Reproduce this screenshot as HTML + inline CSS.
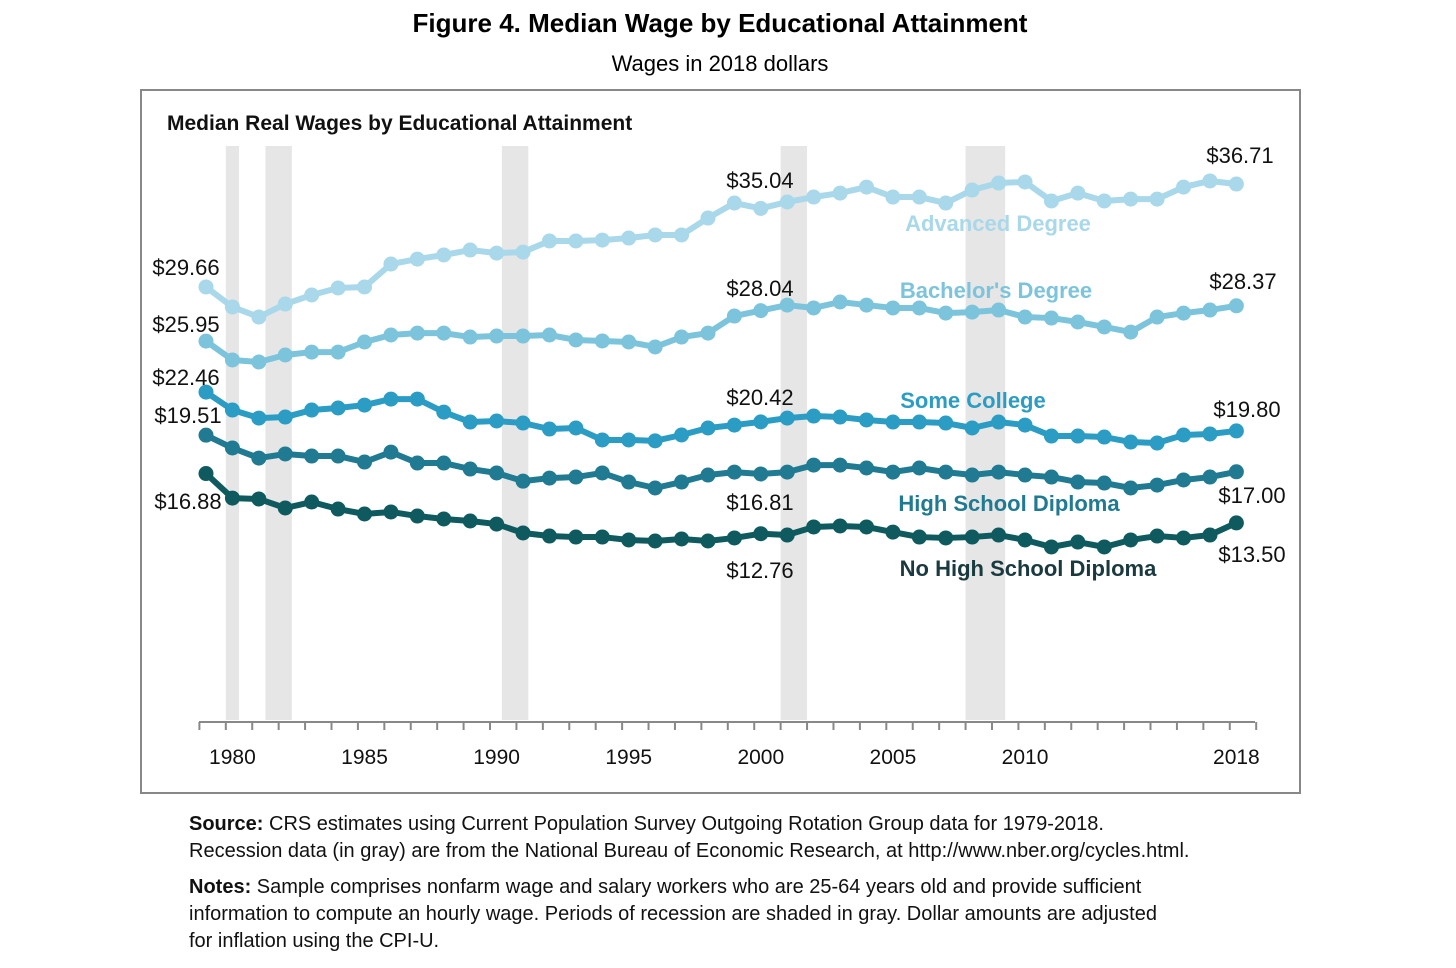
<!DOCTYPE html>
<html><head><meta charset="utf-8">
<style>
body{margin:0;background:#fff;width:1456px;height:968px;overflow:hidden;font-family:"Liberation Sans",sans-serif;}
.foot{position:absolute;left:189px;font-size:20px;color:#111;line-height:27px;}
</style></head>
<body>
<svg width="1456" height="968" style="position:absolute;left:0;top:0">
<text x="720" y="32" text-anchor="middle" font-size="26" font-weight="bold" fill="#000">Figure 4. Median Wage by Educational Attainment</text>
<text x="720" y="71" text-anchor="middle" font-size="22" fill="#000">Wages in 2018 dollars</text>
<rect x="141" y="90" width="1159" height="703" fill="none" stroke="#888" stroke-width="2"/>
<text x="167" y="130" font-size="21" font-weight="bold" fill="#111">Median Real Wages by Educational Attainment</text>
<g id="rec"></g><g id="axis"></g><g id="lines"></g><g id="labels"></g>
</svg>
<div class="foot" style="top:811px"><b>Source:</b> CRS estimates using Current Population Survey Outgoing Rotation Group data for 1979-2018.<br>Recession data (in gray) are from the National Bureau of Economic Research, at http://www.nber.org/cycles.html.</div>
<div class="foot" style="top:874px"><b>Notes:</b> Sample comprises nonfarm wage and salary workers who are 25-64 years old and provide sufficient<br>information to compute an hourly wage. Periods of recession are shaded in gray. Dollar amounts are adjusted<br>for inflation using the CPI-U.</div>
<script>
const years=[];for(let y=1979;y<=2018;y++)years.push(y);
const advanced=[29.66,28.29,27.60,28.49,29.11,29.59,29.66,31.23,31.57,31.85,32.19,31.98,32.05,32.81,32.81,32.87,33.01,33.22,33.22,34.38,35.41,35.04,35.48,35.82,36.09,36.50,35.82,35.82,35.41,36.30,36.78,36.85,35.55,36.09,35.55,35.68,35.68,36.50,36.92,36.71];
const bachelor=[25.95,24.66,24.52,25.00,25.20,25.20,25.89,26.37,26.50,26.50,26.23,26.30,26.30,26.37,26.03,25.96,25.89,25.55,26.23,26.50,27.67,28.04,28.42,28.22,28.63,28.42,28.22,28.22,27.87,27.94,28.08,27.60,27.53,27.26,26.92,26.57,27.60,27.87,28.08,28.37];
const someCollege=[22.46,21.23,20.68,20.75,21.23,21.37,21.57,21.98,21.98,21.09,20.41,20.48,20.34,19.93,20.00,19.18,19.18,19.12,19.52,20.00,20.20,20.42,20.68,20.82,20.75,20.55,20.41,20.41,20.34,20.00,20.41,20.20,19.45,19.45,19.38,19.04,18.97,19.52,19.59,19.80];
const highSchool=[19.51,18.63,17.94,18.22,18.08,18.08,17.67,18.35,17.60,17.60,17.19,16.92,16.36,16.57,16.64,16.92,16.30,15.89,16.30,16.78,16.98,16.85,16.98,17.46,17.46,17.26,16.98,17.26,16.98,16.78,16.98,16.78,16.64,16.30,16.23,15.89,16.09,16.44,16.64,17.00];
const noHighSchool=[16.88,15.20,15.14,14.52,14.93,14.45,14.11,14.25,13.97,13.77,13.63,13.42,12.81,12.60,12.53,12.53,12.33,12.26,12.40,12.26,12.47,12.76,12.67,13.22,13.29,13.22,12.87,12.53,12.47,12.53,12.67,12.33,11.85,12.19,11.85,12.33,12.60,12.47,12.67,13.50];
const recessions=[[1979.75,1980.25],[1981.25,1982.25],[1990.2,1991.2],[2000.75,2001.75],[2007.75,2009.25]];
const tickLabels=[1980,1985,1990,1995,2000,2005,2010,2018];
const NS='http://www.w3.org/2000/svg';
const X=y=>206+(y-1979)*26.42;
const Y=v=>720-v*14.6;
function mk(parent,tag,attrs,text){const e=document.createElementNS(NS,tag);for(const k in attrs)e.setAttribute(k,attrs[k]);if(text!==undefined)e.textContent=text;document.getElementById(parent).appendChild(e);return e;}
recessions.forEach(r=>{const e=mk('rec','rect',{x:X(r[0]),y:146,width:X(r[1])-X(r[0]),height:574,fill:'#e6e6e6'});

});
let ax=mk('axis','line',{x1:199,y1:722,x2:1255,y2:722,stroke:'#888','stroke-width':2});


for(let y=1978.75;y<=2019;y+=1){mk('axis','line',{x1:X(y),y1:722,x2:X(y),y2:730,stroke:'#888','stroke-width':2});}
tickLabels.forEach(t=>{const e=mk('axis','text',{x:X(t),y:764,'text-anchor':'middle','font-size':21,fill:'#111'},String(t));

});
const series=[[advanced,'#a8d8e9','advanced-degree'],[bachelor,'#7cc4dc','bachelors-degree'],[someCollege,'#2b9cc3','some-college'],[highSchool,'#1f7a92','high-school-diploma'],[noHighSchool,'#0e5a5e','no-high-school-diploma']];
series.forEach(s=>{const g=mk('lines','g',{});


const d=s[0].map((v,i)=>(i?'L':'M')+X(years[i])+','+Y(v)).join(' ');
const p=document.createElementNS(NS,'path');p.setAttribute('d',d);p.setAttribute('fill','none');p.setAttribute('stroke',s[1]);p.setAttribute('stroke-width',6);p.setAttribute('stroke-linejoin','round');g.appendChild(p);
s[0].forEach((v,i)=>{const c=document.createElementNS(NS,'circle');c.setAttribute('cx',X(years[i]));c.setAttribute('cy',Y(v));c.setAttribute('r',7.5);c.setAttribute('fill',s[1]);


g.appendChild(c);});});
const vl=[['$29.66',186,275],['$25.95',186,332],['$22.46',186,385],['$19.51',188,423],['$16.88',188,509],['$35.04',760,188],['$28.04',760,296],['$20.42',760,405],['$16.81',760,510],['$12.76',760,578],['$36.71',1240,163],['$28.37',1243,289],['$19.80',1247,417],['$17.00',1252,503],['$13.50',1252,562]];
vl.forEach(l=>{const e=mk('labels','text',{x:l[1],y:l[2],'text-anchor':'middle','font-size':22,fill:'#111'},l[0]);

});
const sl=[['Advanced Degree',998,231,'#a8d8e9'],["Bachelor's Degree",996,298,'#7cc4dc'],['Some College',973,408,'#2b9cc3'],['High School Diploma',1009,511,'#1f7a92'],['No High School Diploma',1028,576,'#1a3a40']];
sl.forEach(l=>{const e=mk('labels','text',{x:l[1],y:l[2],'text-anchor':'middle','font-size':22,'font-weight':'bold',fill:l[3]},l[0]);

});
</script>
</body></html>
